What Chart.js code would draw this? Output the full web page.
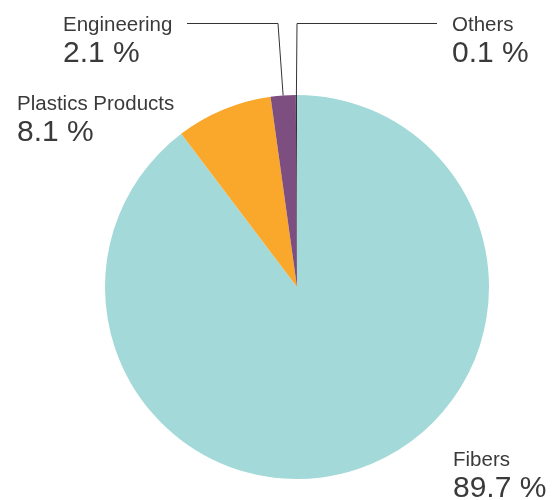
<!DOCTYPE html>
<html lang="en">
<head>
  <meta charset="UTF-8">
  <title>Pie</title>
  <script src="https://cdn.jsdelivr.net/npm/chart.js"></script>
  <style>
    body { margin: 0; background: #fff; }
    canvas { display: block; }
  </style>
</head>
<body>
  <canvas id="pie" width="554" height="500"></canvas>
  <script>
    const labels = ['Fibers', 'Plastics Products', 'Engineering', 'Others'];
    const shares = [89.7, 8.1, 2.1, 0.1];
    const colors = ['#a3d9d8', '#f9a82c', '#7c4f80', '#3a2e36'];

    // where each label sits, and the elbow of its leader line (null = no line)
    const labelPos = [
      { x: 453, y: 466, line: null },
      { x: 17, y: 110, line: null },
      { x: 63, y: 31, line: { from: 187, elbowX: 278, y: 23 } },
      { x: 452, y: 31, line: { from: 437, elbowX: 297, y: 23 } }
    ];

    const labelPlugin = {
      id: 'pieLabels',
      afterDraw(chart) {
        const ctx = chart.ctx;
        const arcs = chart.getDatasetMeta(0).data;
        ctx.save();
        arcs.forEach((arc, i) => {
          const p = labelPos[i];
          if (p.line) {
            const mid = (arc.startAngle + arc.endAngle) / 2;
            const ex = arc.x + Math.cos(mid) * arc.outerRadius;
            const ey = arc.y + Math.sin(mid) * arc.outerRadius;
            ctx.strokeStyle = '#333';
            ctx.lineWidth = 1;
            ctx.beginPath();
            ctx.moveTo(p.line.from, p.line.y + 0.5);
            ctx.lineTo(p.line.elbowX, p.line.y + 0.5);
            ctx.lineTo(ex, ey);
            ctx.stroke();
          }
          ctx.fillStyle = '#3a3a3a';
          ctx.textBaseline = 'alphabetic';
          ctx.textAlign = 'left';
          ctx.font = '20.5px "Liberation Sans", Arial, sans-serif';
          ctx.fillText(labels[i], p.x, p.y);
          ctx.font = '30px "Liberation Sans", Arial, sans-serif';
          ctx.fillText(shares[i].toFixed(1) + ' %', p.x, p.y + 31);
        });
        ctx.restore();
      }
    };

    new Chart(document.getElementById('pie'), {
      type: 'pie',
      data: {
        labels: labels,
        datasets: [{ data: shares, backgroundColor: colors, borderWidth: 0 }]
      },
      options: {
        responsive: false,
        animation: false,
        layout: { padding: { left: 105, right: 65, top: 95, bottom: 21 } },
        plugins: { legend: { display: false }, tooltip: { enabled: false } }
      },
      plugins: [labelPlugin]
    });
  </script>
</body>
</html>
